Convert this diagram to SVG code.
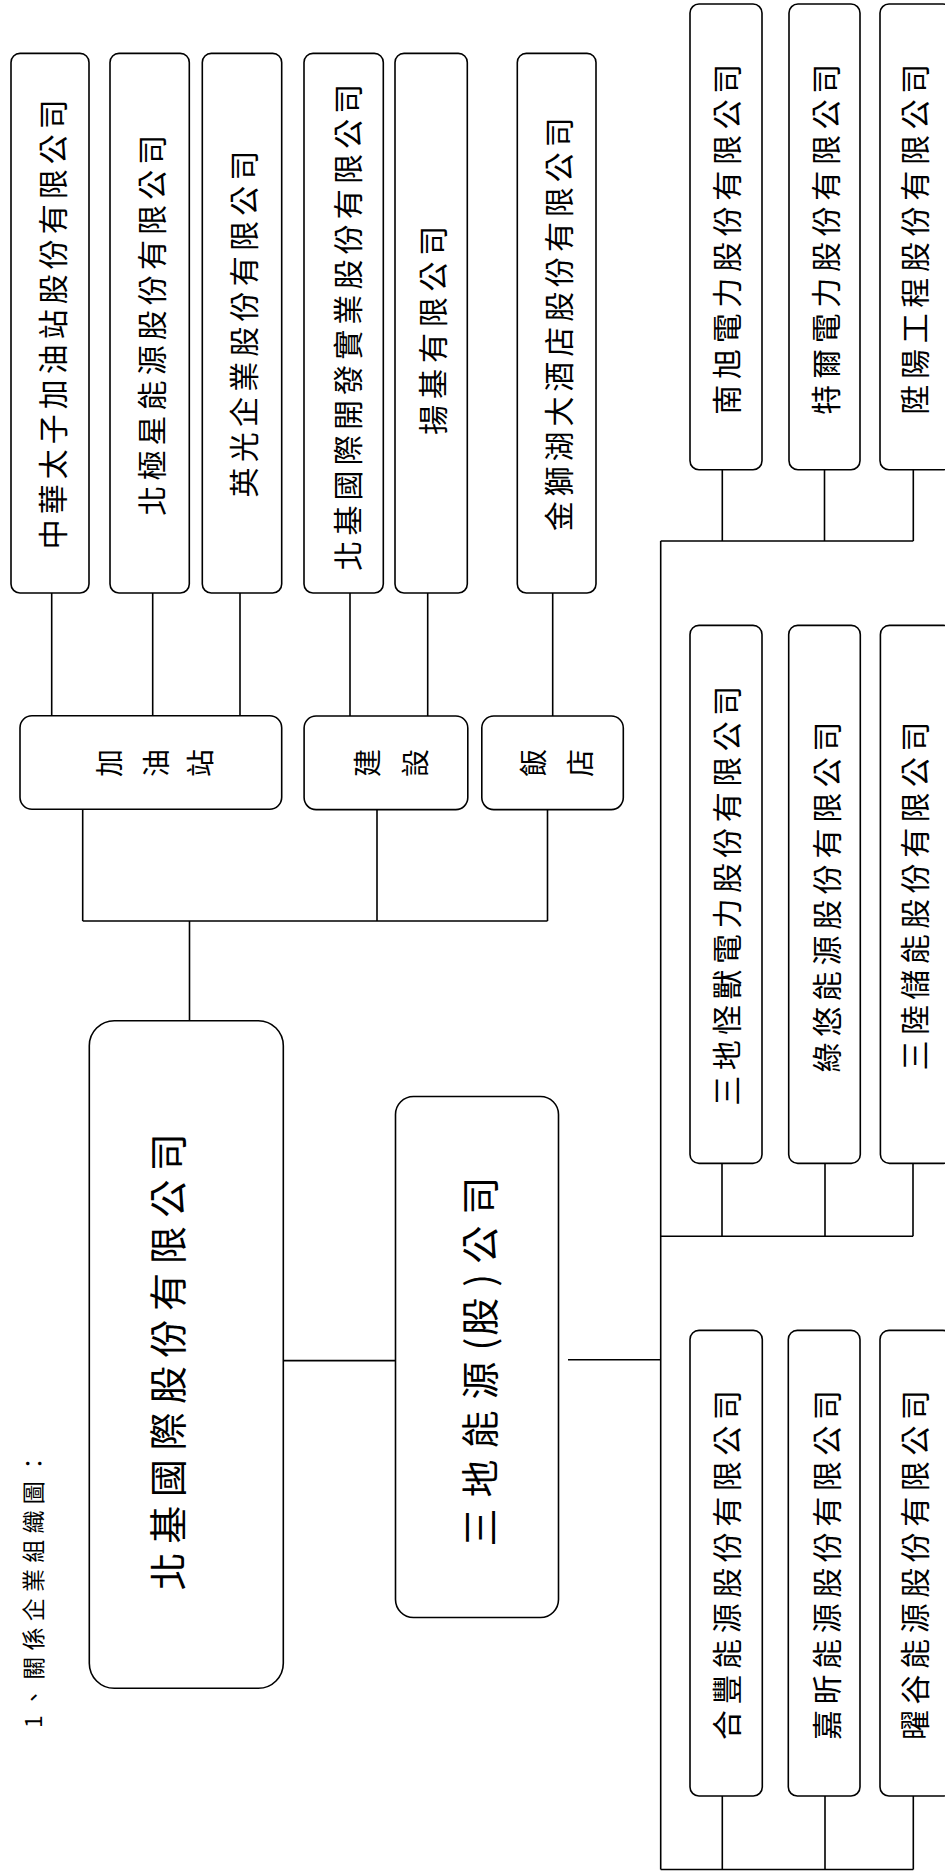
<svg xmlns="http://www.w3.org/2000/svg" width="945" height="1874" viewBox="0 0 945 1874">
<style>
.box{fill:#fff;stroke:#000;stroke-width:1.6}
.ln{fill:none;stroke:#000;stroke-width:1.6}
text{font-family:"Noto Sans CJK TC","Noto Sans CJK SC",sans-serif;fill:#000}
.leaf{font-size:30px}
.cat{font-size:28px}
.main{font-size:38px}
.title{font-size:23px}
</style>
<rect width="945" height="1874" fill="#fff"/>
<g id="connectors">
<path class="ln" d="M51.7 593V715.7M152.7 593V715.7M240 593V715.7M350 593V716M427.7 593V716M552.7 593V716"/>
<path class="ln" d="M82.7 809.3V921M377 809.6V921M547.5 809.6V921M82.7 921H547.5M189.5 921V1020.7"/>
<path class="ln" d="M283.3 1360.6H395.5M568 1359.7H660.7"/>
<path class="ln" d="M660.7 541V1869.5"/>
<path class="ln" d="M660.7 541H913.3M722.3 469.7V541M824.5 469.7V541M913.3 469.7V541"/>
<path class="ln" d="M660.7 1236.2H913M722 1163.4V1236.2M825 1163.4V1236.2M913 1163.4V1236.2"/>
<path class="ln" d="M660.7 1869.5H913.3M722.3 1796V1869.5M825 1796V1869.5M913.3 1796V1869.5"/>
</g>
<g id="title"><text class="title" x="32" y="1590" transform="rotate(-90 32 1590)" text-anchor="middle" dominant-baseline="central" textLength="276" lengthAdjust="spacing">1、關係企業組織圖：</text></g>
<g id="n-main1"><rect class="box" x="89.3" y="1020.7" width="194" height="667.6" rx="25"/>
<text class="main" x="166" y="1361.7" transform="rotate(-90 166 1361.7)" text-anchor="middle" dominant-baseline="central" textLength="457" lengthAdjust="spacing">北基國際股份有限公司</text></g>
<g id="n-main2"><rect class="box" x="395.5" y="1096.5" width="163" height="521" rx="18"/>
<text class="main" x="477" y="1361.7" transform="rotate(-90 477 1361.7)" text-anchor="middle" dominant-baseline="central"><tspan letter-spacing="11">三地能源</tspan><tspan letter-spacing="2">(</tspan><tspan letter-spacing="11">股</tspan><tspan letter-spacing="10">)</tspan><tspan letter-spacing="11">公</tspan><tspan>司</tspan></text></g>
<g id="n-gas"><rect class="box" x="20" y="715.7" width="261.7" height="93.6" rx="12"/>
<text class="cat" x="108.3" y="763" transform="rotate(-90 108.3 763)" text-anchor="middle" dominant-baseline="central">加</text>
<text class="cat" x="155" y="763" transform="rotate(-90 155 763)" text-anchor="middle" dominant-baseline="central">油</text>
<text class="cat" x="199" y="763" transform="rotate(-90 199 763)" text-anchor="middle" dominant-baseline="central">站</text></g>
<g id="n-build"><rect class="box" x="304.1" y="716" width="163.7" height="93.6" rx="12"/>
<text class="cat" x="366" y="763" transform="rotate(-90 366 763)" text-anchor="middle" dominant-baseline="central">建</text>
<text class="cat" x="414" y="763" transform="rotate(-90 414 763)" text-anchor="middle" dominant-baseline="central">設</text></g>
<g id="n-hotel"><rect class="box" x="481.8" y="716" width="141.5" height="93.6" rx="12"/>
<text class="cat" x="532" y="763" transform="rotate(-90 532 763)" text-anchor="middle" dominant-baseline="central">飯</text>
<text class="cat" x="579" y="763" transform="rotate(-90 579 763)" text-anchor="middle" dominant-baseline="central">店</text></g>
<g id="n-a"><rect class="box" x="11" y="53.4" width="78" height="539.6" rx="9"/>
<text class="leaf" x="51" y="324.2" transform="rotate(-90 51 324.2)" text-anchor="middle" dominant-baseline="central" textLength="450" lengthAdjust="spacing">中華太子加油站股份有限公司</text></g>
<g id="n-b"><rect class="box" x="110" y="53.4" width="79.3" height="539.6" rx="9"/>
<text class="leaf" x="150" y="325.2" transform="rotate(-90 150 325.2)" text-anchor="middle" dominant-baseline="central" textLength="381" lengthAdjust="spacing">北極星能源股份有限公司</text></g>
<g id="n-c"><rect class="box" x="202.3" y="53.4" width="79.4" height="539.6" rx="9"/>
<text class="leaf" x="242" y="324" transform="rotate(-90 242 324)" text-anchor="middle" dominant-baseline="central" textLength="347" lengthAdjust="spacing">英光企業股份有限公司</text></g>
<g id="n-d"><rect class="box" x="304" y="53.4" width="79.3" height="539.6" rx="9"/>
<text class="leaf" x="346" y="327.2" transform="rotate(-90 346 327.2)" text-anchor="middle" dominant-baseline="central" textLength="487" lengthAdjust="spacing">北基國際開發實業股份有限公司</text></g>
<g id="n-e"><rect class="box" x="395" y="53.4" width="72.3" height="539.6" rx="9"/>
<text class="leaf" x="431" y="330.2" transform="rotate(-90 431 330.2)" text-anchor="middle" dominant-baseline="central" textLength="209" lengthAdjust="spacing">揚基有限公司</text></g>
<g id="n-f"><rect class="box" x="517.3" y="53.4" width="78.7" height="539.6" rx="9"/>
<text class="leaf" x="557" y="324.3" transform="rotate(-90 557 324.3)" text-anchor="middle" dominant-baseline="central" textLength="414" lengthAdjust="spacing">金獅湖大酒店股份有限公司</text></g>
<g id="n-g"><rect class="box" x="690" y="4" width="72" height="465.7" rx="9"/>
<text class="leaf" x="725" y="239.2" transform="rotate(-90 725 239.2)" text-anchor="middle" dominant-baseline="central" textLength="351" lengthAdjust="spacing">南旭電力股份有限公司</text></g>
<g id="n-h"><rect class="box" x="789" y="4" width="71" height="465.7" rx="9"/>
<text class="leaf" x="824.5" y="239.2" transform="rotate(-90 824.5 239.2)" text-anchor="middle" dominant-baseline="central" textLength="351" lengthAdjust="spacing">特爾電力股份有限公司</text></g>
<g id="n-i"><rect class="box" x="880" y="4" width="72" height="465.7" rx="9"/>
<text class="leaf" x="913" y="239.2" transform="rotate(-90 913 239.2)" text-anchor="middle" dominant-baseline="central" textLength="351" lengthAdjust="spacing">陞陽工程股份有限公司</text></g>
<g id="n-j"><rect class="box" x="690" y="625.4" width="72" height="538" rx="9"/>
<text class="leaf" x="725" y="895.8" transform="rotate(-90 725 895.8)" text-anchor="middle" dominant-baseline="central" textLength="420" lengthAdjust="spacing">三地怪獸電力股份有限公司</text></g>
<g id="n-k"><rect class="box" x="788.7" y="625.4" width="71.6" height="538" rx="9"/>
<text class="leaf" x="824.5" y="897" transform="rotate(-90 824.5 897)" text-anchor="middle" dominant-baseline="central" textLength="351" lengthAdjust="spacing">綠悠能源股份有限公司</text></g>
<g id="n-l"><rect class="box" x="880.4" y="625.4" width="72" height="538" rx="9"/>
<text class="leaf" x="913" y="896" transform="rotate(-90 913 896)" text-anchor="middle" dominant-baseline="central" textLength="349" lengthAdjust="spacing">三陸儲能股份有限公司</text></g>
<g id="n-m"><rect class="box" x="690" y="1330.4" width="72.3" height="465.6" rx="9"/>
<text class="leaf" x="725" y="1565" transform="rotate(-90 725 1565)" text-anchor="middle" dominant-baseline="central" textLength="350" lengthAdjust="spacing">合豐能源股份有限公司</text></g>
<g id="n-n"><rect class="box" x="788.3" y="1330.4" width="71.7" height="465.6" rx="9"/>
<text class="leaf" x="824.5" y="1565" transform="rotate(-90 824.5 1565)" text-anchor="middle" dominant-baseline="central" textLength="350" lengthAdjust="spacing">嘉昕能源股份有限公司</text></g>
<g id="n-o"><rect class="box" x="880" y="1330.4" width="72" height="465.6" rx="9"/>
<text class="leaf" x="913" y="1565" transform="rotate(-90 913 1565)" text-anchor="middle" dominant-baseline="central" textLength="350" lengthAdjust="spacing">曜谷能源股份有限公司</text></g>
</svg>
